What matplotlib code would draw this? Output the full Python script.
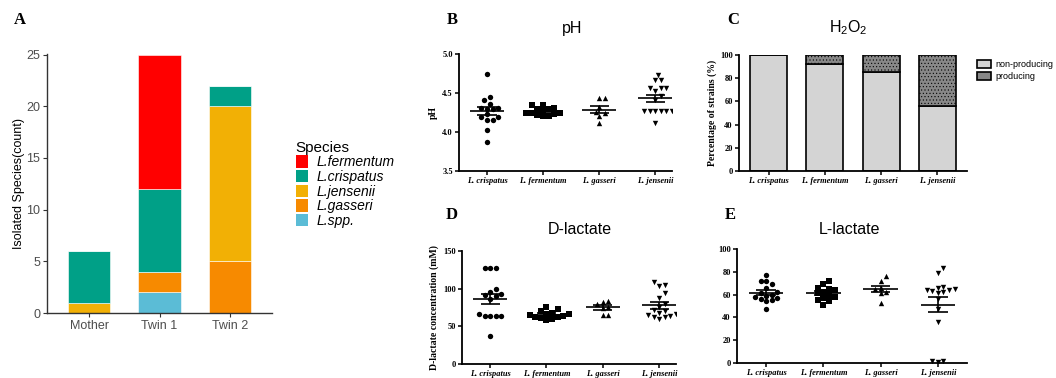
import numpy as np
import matplotlib
matplotlib.use('Agg')
import matplotlib.pyplot as plt
from matplotlib.patches import Patch

"""Vaginal lactobacilli: species counts, pH, H2O2 and lactate production"""

W, H = 1056, 378

# ---- panel A: isolated species per subject
subjects = ['Mother', 'Twin 1', 'Twin 2']
spp_counts = [0, 2, 0]
gasseri_counts = [0, 2, 5]
jensenii_counts = [1, 0, 15]
crispatus_counts = [5, 8, 2]
fermentum_counts = [0, 13, 0]
stack_names = ['L.spp.', 'L.gasseri', 'L.jensenii', 'L.crispatus', 'L.fermentum']
stack_colors = ['#5BBCD6', '#F78A00', '#F2B005', '#00A087', '#FF0000']

# ---- panels B-E: per strain measurements
strains = ['L. crispatus', 'L. fermentum', 'L. gasseri', 'L. jensenii']
markers = ['o', 's', '^', 'v']

ph_crispatus = [4.75, 4.45, 4.41, 4.36, 4.31, 4.31, 4.30, 4.30, 4.23, 4.19, 4.19, 4.15, 4.15, 4.02, 3.87]
ph_fermentum = [4.35, 4.34, 4.31, 4.30, 4.29, 4.27, 4.25, 4.24, 4.24, 4.23, 4.22, 4.20, 4.20]
ph_gasseri = [4.43, 4.43, 4.32, 4.26, 4.24, 4.20, 4.11]
ph_jensenii = [4.73, 4.67, 4.67, 4.57, 4.56, 4.56, 4.52, 4.46, 4.41, 4.27, 4.27, 4.27, 4.27, 4.27, 4.27, 4.12]

h2o2_non_producing = [100.0, 92.3, 85.7, 56.25]
h2o2_producing = [0.0, 7.7, 14.3, 43.75]

dlac_crispatus = [128, 127, 127, 99, 95, 93, 91, 90, 86, 67, 64, 64, 64, 64, 37]
dlac_fermentum = [76, 73, 70, 68, 67, 66, 65, 64, 63, 62, 61, 60, 58]
dlac_gasseri = [84, 82, 80, 76, 74, 65, 65]
dlac_jensenii = [109, 105, 104, 94, 88, 80, 76, 72, 70, 68, 66, 65, 64, 63, 62, 60]

llac_crispatus = [77, 72, 72, 69, 66, 62, 61, 60, 59, 58, 57, 56, 55, 54, 47]
llac_fermentum = [72, 69, 66, 65, 64, 62, 61, 60, 58, 57, 55, 54, 51]
llac_gasseri = [76, 72, 66, 65, 62, 61, 53]
llac_jensenii = [83, 79, 64, 67, 66, 65, 64, 63, 62, 61, 56, 47, 36, 2, 1, 2]

SERIF = 'Liberation Serif'
SANS = 'Liberation Sans'


def rect(left, top, width, height):
    return [left / W, 1 - (top + height) / H, width / W, height / H]


def swarm(ax, center, values, gap_px=5.6):
    # simple beeswarm in pixel space so markers barely overlap
    trans = ax.transData
    ypx = trans.transform([(center, v) for v in values])[:, 1]
    px_unit = trans.transform((1, 0))[0] - trans.transform((0, 0))[0]
    steps = [0]
    for k in range(1, 30):
        steps += [k * 0.5, -k * 0.5]
    placed = []
    xs = np.zeros(len(values))
    for i in np.argsort(ypx):
        for s in steps:
            x = s * gap_px
            if all((x - px) ** 2 + (ypx[i] - py) ** 2 >= (gap_px * 0.97) ** 2 for px, py in placed):
                break
        placed.append((x, ypx[i]))
        xs[i] = center + x / px_unit
    return xs


def prism_style(ax, xlim, ylim, yticks, fmt):
    ax.set_xlim(*xlim)
    ax.set_ylim(*ylim)
    for side in ['top', 'right']:
        ax.spines[side].set_visible(False)
    for side in ['left', 'bottom']:
        ax.spines[side].set_linewidth(1.3)
    ax.set_yticks(yticks)
    ax.set_yticklabels([fmt.format(t) for t in yticks], fontfamily=SERIF,
                       fontweight='bold', fontsize=6)
    ax.set_xticks(range(len(strains)))
    ax.set_xticklabels(strains, fontfamily=SERIF, fontweight='bold',
                       fontstyle='italic', fontsize=6)
    ax.tick_params(direction='out', length=3, width=1.1, pad=1.5)


def dot_panel(ax, groups):
    for i, vals in enumerate(groups):
        vals = np.asarray(vals, dtype=float)
        xs = swarm(ax, i, vals)
        ax.scatter(xs, vals, marker=markers[i], s=15, color='black', linewidths=0, zorder=3)
        mean = vals.mean()
        sem = vals.std(ddof=1) / np.sqrt(len(vals))
        ax.hlines(mean, i - 0.3, i + 0.3, color='black', lw=1.2, zorder=4)
        ax.hlines([mean - sem, mean + sem], i - 0.17, i + 0.17, color='black', lw=1.2, zorder=4)
        ax.vlines(i, mean - sem, mean + sem, color='black', lw=1.2, zorder=4)


def ylabel(ax, text, pad):
    ax.set_ylabel(text, fontfamily=SERIF, fontweight='bold', fontsize=7, labelpad=pad)


def main():
    fig = plt.figure(figsize=(W / 100, H / 100), dpi=100)

    # A
    ax_a = fig.add_axes(rect(47, 54, 225, 259))
    x = np.arange(len(subjects))
    bottom = np.zeros(len(subjects))
    stacks = [spp_counts, gasseri_counts, jensenii_counts, crispatus_counts, fermentum_counts]
    for vals, col in zip(stacks, stack_colors):
        ax_a.bar(x, vals, 0.6, bottom=bottom, color=col, edgecolor='white', linewidth=0.4)
        bottom += np.array(vals)
    ax_a.set_xlim(-0.6, 2.6)
    ax_a.set_ylim(0, 25.05)
    ax_a.set_yticks([0, 5, 10, 15, 20, 25])
    ax_a.set_xticks(x)
    ax_a.set_xticklabels(subjects)
    for side in ['top', 'right']:
        ax_a.spines[side].set_visible(False)
    for side in ['left', 'bottom']:
        ax_a.spines[side].set_linewidth(1.0)
        ax_a.spines[side].set_color('#333333')
    ax_a.tick_params(length=3, width=0.8, color='#333333', labelcolor='#4D4D4D',
                     labelsize=9, pad=2)
    for lab in ax_a.get_xticklabels() + ax_a.get_yticklabels():
        lab.set_fontfamily(SANS)
    ax_a.set_ylabel('Isolated Species(count)', fontfamily=SANS, fontsize=9, labelpad=1)
    handles = [Patch(facecolor=c) for c in stack_colors[::-1]]
    ax_a.legend(handles, stack_names[::-1], title='Species', loc='upper left',
                bbox_to_anchor=(290 / W, 1 - 135 / H), bbox_transform=fig.transFigure,
                frameon=False, prop={'family': SANS, 'style': 'italic', 'size': 10},
                title_fontproperties={'family': SANS, 'size': 11},
                handlelength=0.9, handleheight=1.0, handletextpad=0.6,
                labelspacing=0.05, alignment='left', borderaxespad=0)

    # B: pH
    ax_b = fig.add_axes(rect(459, 54, 213, 117))
    prism_style(ax_b, (-0.5, 3.3), (3.5, 5.0), [3.5, 4.0, 4.5, 5.0], '{:.1f}')
    dot_panel(ax_b, [ph_crispatus, ph_fermentum, ph_gasseri, ph_jensenii])
    ylabel(ax_b, 'pH', 3)

    # C: H2O2
    ax_c = fig.add_axes(rect(739, 55, 228, 116))
    prism_style(ax_c, (-0.53, 3.53), (0, 100), [0, 20, 40, 60, 80, 100], '{:d}')
    xc = np.arange(len(strains))
    ax_c.bar(xc, h2o2_non_producing, 0.66, color='#D4D4D4', edgecolor='black', linewidth=1.2)
    ax_c.bar(xc, h2o2_producing, 0.66, bottom=h2o2_non_producing, color='#888888',
             edgecolor='black', linewidth=1.2, hatch='.....')
    ylabel(ax_c, 'Percentage of strains (%)', 2)
    ax_c.legend([Patch(facecolor='#D4D4D4', edgecolor='black', linewidth=1.2),
                 Patch(facecolor='#888888', edgecolor='black', linewidth=1.2)],
                ['non-producing', 'producing'], loc='upper left',
                bbox_to_anchor=(973 / W, 1 - 56 / H), bbox_transform=fig.transFigure,
                frameon=False, prop={'family': SANS, 'size': 6.5}, handlelength=1.6,
                handleheight=1.0, handletextpad=0.5, labelspacing=0.35, borderaxespad=0)

    # D: D-lactate
    ax_d = fig.add_axes(rect(462, 251, 214, 113))
    prism_style(ax_d, (-0.5, 3.3), (0, 150), [0, 50, 100, 150], '{:d}')
    dot_panel(ax_d, [dlac_crispatus, dlac_fermentum, dlac_gasseri, dlac_jensenii])
    ylabel(ax_d, 'D-lactate concentration (mM)', 3)

    # E: L-lactate
    ax_e = fig.add_axes(rect(737, 249, 230, 114))
    prism_style(ax_e, (-0.51, 3.51), (0, 100), [0, 20, 40, 60, 80, 100], '{:d}')
    dot_panel(ax_e, [llac_crispatus, llac_fermentum, llac_gasseri, llac_jensenii])

    # panel letters and titles
    for letter, px, py in [('A', 20, 20), ('B', 452, 20), ('C', 733, 20),
                           ('D', 452, 215), ('E', 730, 215)]:
        fig.text(px / W, 1 - py / H, letter, fontfamily=SERIF, fontweight='bold',
                 fontsize=12, ha='center', va='center')
    for title, px, py in [('pH', 572, 29), ('H$_2$O$_2$', 848, 28),
                          ('D-lactate', 580, 230), ('L-lactate', 850, 230)]:
        fig.text(px / W, 1 - py / H, title, fontfamily=SANS, fontsize=11.5,
                 ha='center', va='center')

    fig.savefig('out.png', dpi=100)


if __name__ == '__main__':
    plt.rcParams['hatch.linewidth'] = 0.4
    plt.rcParams['mathtext.fontset'] = 'custom'
    plt.rcParams['mathtext.rm'] = SANS
    main()
